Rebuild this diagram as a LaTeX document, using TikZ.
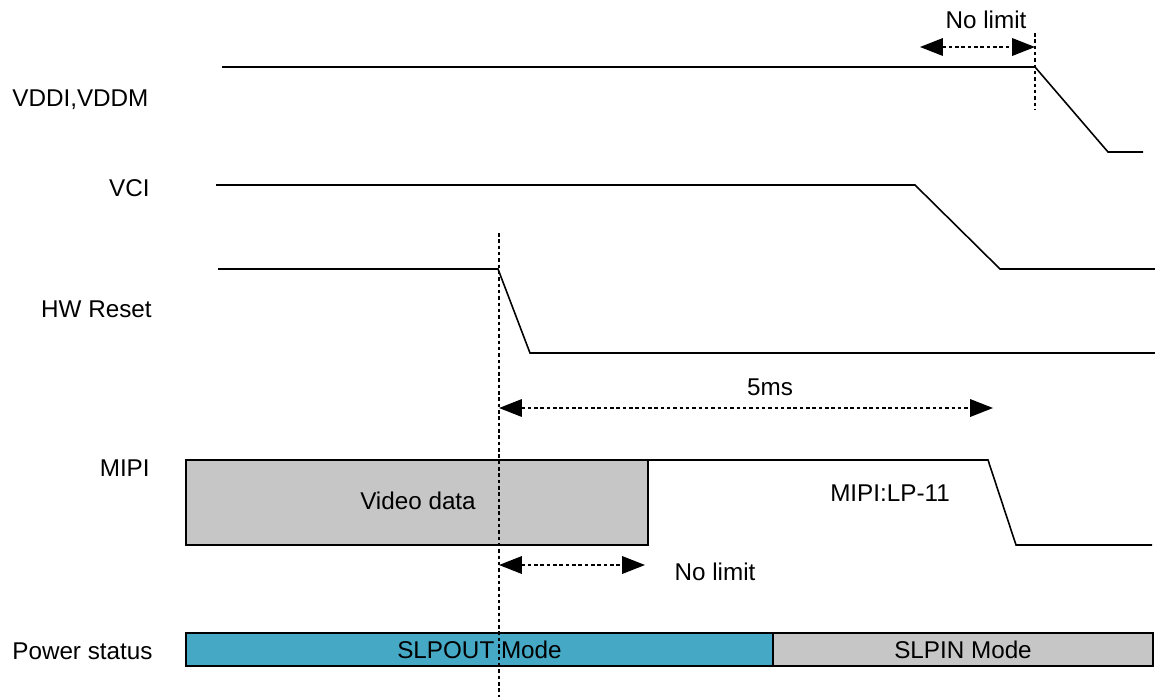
\documentclass[tikz,border=0pt]{standalone}
\usepackage{fontspec}
\setmainfont{Liberation Sans}
\usetikzlibrary{arrows.meta}
\definecolor{boxgray}{HTML}{C6C6C6}
\definecolor{slpblue}{HTML}{45A8C4}
\begin{document}
\begin{tikzpicture}[x=0.02cm,y=-0.02cm,
  sig/.style={line width=0.9pt,black},
  vguide/.style={line width=0.8pt,dash pattern=on 2pt off 1.6pt},
  dimarrow/.style={line width=0.8pt,dash pattern=on 2pt off 1.6pt,{Triangle[length=13pt,width=10pt]}-{Triangle[length=13pt,width=10pt]}},
  txt/.style={font=\fontsize{13.8}{16}\selectfont,inner sep=0pt},
  lbl/.style={txt,anchor=west},
  bar/.style={draw,fill=boxgray,anchor=north west,inner sep=0pt,outer sep=0pt}]
\useasboundingbox (0,0) rectangle (1155,697);
% labels
\node[lbl] (lvddi) at (12,100) {VDDI,VDDM};
\node[txt,anchor=east] (lvci) at (150,188) {VCI};
\node[txt,anchor=east] (lhw) at (152,309) {HW Reset};
\node[txt,anchor=east] (lmipi) at (150,468) {MIPI};
\node[lbl] (lpow) at (12,651) {Power status};
% VDDI
\coordinate (v0) at (222,67); \coordinate (v1) at (1035,67);
\coordinate (v2) at (1108,152); \coordinate (v3) at (1143,152);
\draw[sig] (v0) -- (v1) -- (v2) -- (v3);
\coordinate (g1t) at (1035,33); \coordinate (g1b) at (1035,110);
\draw[vguide] (g1t) -- (g1b);
\coordinate (a1l) at (920,47); \coordinate (a1r) at (1035,47);
\draw[dimarrow] (a1l) -- (a1r);
\node[txt] (nl1) at (986,20) {No limit};
% VCI
\coordinate (c0) at (216,185); \coordinate (c1) at (915,185);
\coordinate (c2) at (1000,269); \coordinate (c3) at (1155,269);
\draw[sig] (c0) -- (c1) -- (c2) -- (c3);
% HW Reset
\coordinate (h0) at (218,269); \coordinate (h1) at (498,269);
\coordinate (h2) at (530,353); \coordinate (h3) at (1155,353);
\draw[sig] (h0) -- (h1) -- (h2) -- (h3);
% 5ms
\coordinate (a2l) at (499,408); \coordinate (a2r) at (993,408);
\draw[dimarrow] (a2l) -- (a2r);
\node[txt] (n5ms) at (770,387) {5ms};
% MIPI
\node[bar,line width=0.9pt,minimum width=462*0.02cm,minimum height=85*0.02cm] (vbox) at (186,460) {};
\node[txt] (nvid) at (418,501) {Video data};
\coordinate (m1) at (988,460); \coordinate (m2) at (1016,545); \coordinate (m3) at (1152,545);
\draw[sig] (vbox.north east) -- (m1) -- (m2) -- (m3);
\node[txt] (nlp) at (890,493) {MIPI:LP-11};
\coordinate (a3l) at (499,565); \coordinate (a3r) at (645,565);
\draw[dimarrow] (a3l) -- (a3r);
\node[txt] (nl3) at (715,572) {No limit};
% Power status
\node[bar,line width=0.6pt,fill=slpblue,minimum width=587*0.02cm,minimum height=33*0.02cm] (pout) at (186,633) {};
\node[bar,line width=0.6pt,minimum width=380*0.02cm,minimum height=33*0.02cm] (pin) at (773,633) {};
\node[txt] (tout) at (pout.center) {SLPOUT Mode};
\node[txt] (tin) at (pin.center) {SLPIN Mode};
% main guide
\coordinate (g2t) at (499,233); \coordinate (g2b) at (499,697);
\draw[vguide] (g2t) -- (g2b);
\end{tikzpicture}
\end{document}
